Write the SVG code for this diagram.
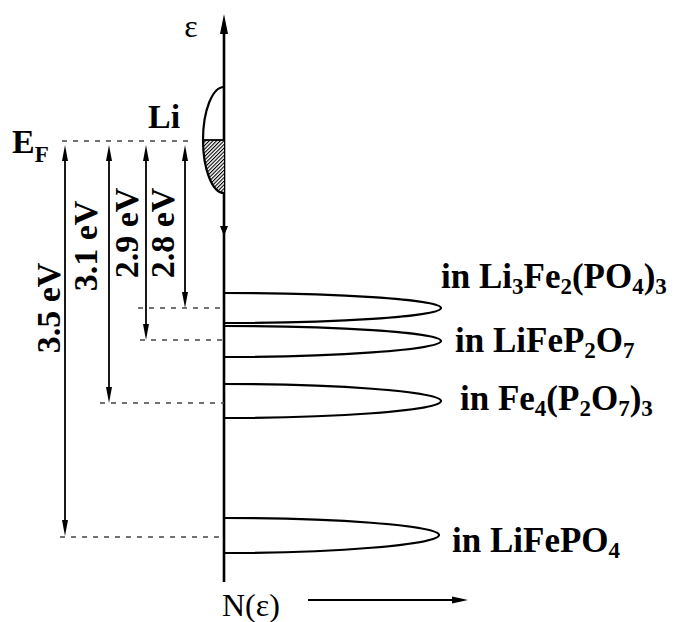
<svg xmlns="http://www.w3.org/2000/svg" width="675" height="622" viewBox="0 0 675 622">
<style>
.t{font-family:"Liberation Serif","Times New Roman",serif;font-weight:bold;font-size:34px;fill:#000}
.big{font-size:35px}
.r{font-family:"Liberation Serif","Times New Roman",serif;font-size:32px;fill:#000}
.sub{font-size:23px}
.lobe{fill:none;stroke:#000;stroke-width:2.2}
.dash{stroke:#444;stroke-width:1.6;stroke-dasharray:5 6;fill:none}
.arr{stroke:#000;stroke-width:1.8;fill:none}
.head{fill:#000}
</style>
<defs>
<pattern id="hatch" patternUnits="userSpaceOnUse" width="2.6" height="2.6" patternTransform="rotate(45)">
<rect width="2.6" height="2.6" fill="#fff"/>
<line x1="0" y1="0" x2="0" y2="2.6" stroke="#000" stroke-width="2.2"/>
</pattern>
</defs>
<rect width="675" height="622" fill="#fff"/>

<g id="axes">
<line x1="224" y1="28" x2="224" y2="582" stroke="#000" stroke-width="2.6"/>
<polygon class="head" points="224,14 220,34 228,34"/>
<polygon class="head" points="224,236 220,226 228,226"/>
<text class="r" x="191" y="37" text-anchor="middle">ε</text>
<text class="r" x="222" y="616">N(ε)</text>
<line x1="308" y1="600" x2="455" y2="600" stroke="#000" stroke-width="1.8"/>
<polygon class="head" points="468,600 452,596.5 452,603.5"/>
</g>

<g id="li-band">
<path d="M224,140 L203.5,140 A21,53 0 0 0 224,193 Z" fill="url(#hatch)"/>
<path d="M224,87 A21,53 0 0 0 224,193" fill="none" stroke="#000" stroke-width="2.2"/>
<line x1="203" y1="140" x2="224" y2="140" stroke="#000" stroke-width="1.8"/>
<text class="t" x="148" y="128">Li</text>
</g>

<g id="fermi-level">
<text class="t" x="12" y="153">E<tspan class="sub" dy="9">F</tspan></text>
</g>

<g id="lobe-li3fe2po43">
<path class="lobe" d="M224,293 C330,293 441,299 441,308 C441,317 330,323 224,323"/>
<text class="t big" x="441" y="288">in Li<tspan class="sub" dy="6">3</tspan><tspan dy="-6">Fe</tspan><tspan class="sub" dy="6">2</tspan><tspan dy="-6">(PO</tspan><tspan class="sub" dy="6">4</tspan><tspan dy="-6">)</tspan><tspan class="sub" dy="6">3</tspan></text>
</g>

<g id="lobe-lifep2o7">
<path class="lobe" d="M224,326 C330,326 441,332 441,341 C441,350 330,357 224,357"/>
<text class="t big" x="455" y="352">in LiFeP<tspan class="sub" dy="6">2</tspan><tspan dy="-6">O</tspan><tspan class="sub" dy="6">7</tspan></text>
</g>

<g id="lobe-fe4p2o73">
<path class="lobe" d="M224,384 C330,384 441,391 441,401 C441,411 330,418 224,418"/>
<text class="t big" x="460" y="410">in Fe<tspan class="sub" dy="6">4</tspan><tspan dy="-6">(P</tspan><tspan class="sub" dy="6">2</tspan><tspan dy="-6">O</tspan><tspan class="sub" dy="6">7</tspan><tspan dy="-6">)</tspan><tspan class="sub" dy="6">3</tspan></text>
</g>

<g id="lobe-lifepo4">
<path class="lobe" d="M224,518 C330,518 439,525 439,535 C439,545 330,553 224,553"/>
<text class="t big" x="452" y="552">in LiFePO<tspan class="sub" dy="6">4</tspan></text>
</g>

<g id="connectors">
<line class="dash" x1="62" y1="141" x2="190" y2="141"/>
<line class="dash" x1="138" y1="308" x2="224" y2="308"/>
<line class="dash" x1="140" y1="340" x2="224" y2="340"/>
<line class="dash" x1="100" y1="403" x2="224" y2="403"/>
<line class="dash" x1="60" y1="537" x2="224" y2="537"/>

<line class="arr" x1="65" y1="158" x2="65" y2="522"/>
<polygon class="head" points="65,145 62,161 68,161"/>
<polygon class="head" points="65,536 62,520 68,520"/>

<line class="arr" x1="109" y1="158" x2="109" y2="390" stroke-width="2.6"/>
<polygon class="head" points="109,145 106,161 112,161"/>
<polygon class="head" points="109,403 106,387 112,387"/>

<line class="arr" x1="146" y1="158" x2="146" y2="328"/>
<polygon class="head" points="146,145 143,161 149,161"/>
<polygon class="head" points="146,340 143,324 149,324"/>

<line class="arr" x1="185" y1="158" x2="185" y2="296"/>
<polygon class="head" points="185,145 182,161 188,161"/>
<polygon class="head" points="185,308 182,292 188,292"/>
</g>

<g id="energy-labels">
<text class="t" transform="translate(60,308) rotate(-90)" text-anchor="middle">3.5 eV</text>
<text class="t" transform="translate(97,246) rotate(-90)" text-anchor="middle">3.1 eV</text>
<text class="t" transform="translate(138,233) rotate(-90)" text-anchor="middle">2.9 eV</text>
<text class="t" transform="translate(174,233) rotate(-90)" text-anchor="middle">2.8 eV</text>
</g>
</svg>
